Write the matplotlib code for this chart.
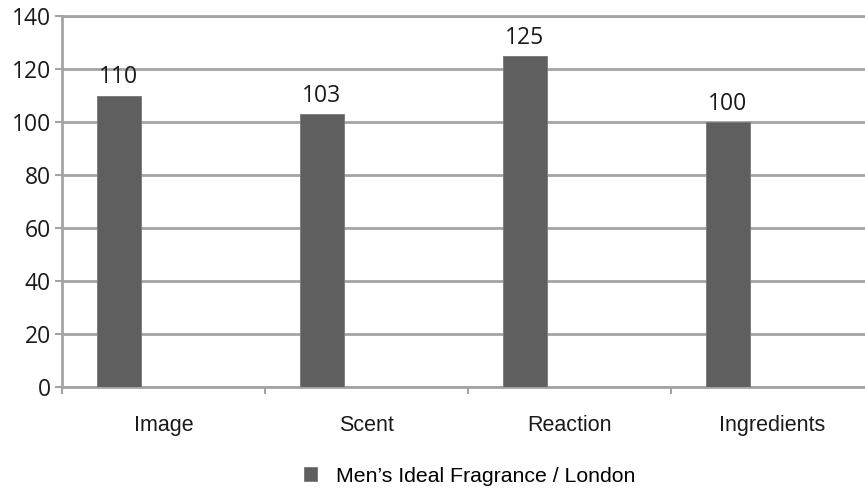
import numpy as np
import matplotlib
matplotlib.use("Agg")
import matplotlib.pyplot as plt
from matplotlib.patches import Patch

categories = ["Image", "Scent", "Reaction", "Ingredients"]
values = [110, 103, 125, 100]
series_name = "Men\u2019s Ideal Fragrance / London"
yticks = [0, 20, 40, 60, 80, 100, 120, 140]

bar_color = "#5f5f5f"
grid_color = "#a4a4a4"

fig = plt.figure(figsize=(8.65, 4.88), dpi=100)
ax = fig.add_axes([62 / 865, 1 - 387 / 488, (874 - 62) / 865, (387 - 16) / 488])

x = np.arange(len(categories))
bar_x = x - 0.22
bars = ax.bar(bar_x, values, width=0.217, color=bar_color, edgecolor="#777777",
              linewidth=0.6, zorder=3)

for bx, v in zip(bar_x, values):
    ax.annotate(str(v), (bx, v), xytext=(0, 4.5), textcoords="offset points",
                ha="center", va="bottom", fontsize=16.5, family="Open Sans",
                color="#1a1a1a")

ax.set_xlim(-0.5, 3.5)
ax.set_ylim(0, 140)

# y axis
ax.set_yticks(yticks)
ax.set_yticklabels([str(t) for t in yticks], fontsize=16.5, family="Open Sans",
                   color="#1a1a1a")
ax.tick_params(axis="y", length=5, width=1.5, color=grid_color, pad=3)
ax.yaxis.grid(True, color=grid_color, linewidth=2, zorder=0)

# x axis: boundary ticks, labels centred in each slot
ax.set_xticks([-0.5, 0.5, 1.5, 2.5])
ax.set_xticklabels([])
ax.tick_params(axis="x", which="major", length=5, width=1.5, color=grid_color)
ax.set_xticks(x, minor=True)
ax.set_xticklabels(categories, minor=True, fontsize=15.5,
                   family="Liberation Sans", color="#1a1a1a")
ax.tick_params(axis="x", which="minor", length=0, pad=20)

for side in ["left", "bottom", "top"]:
    ax.spines[side].set_color(grid_color)
    ax.spines[side].set_linewidth(2)
ax.spines["right"].set_visible(False)

handle = Patch(facecolor=bar_color, edgecolor="#777777", linewidth=0.6)
fig.legend([handle], [series_name], loc="center", bbox_to_anchor=(470 / 865, 1 - 476 / 488),
           frameon=False, prop={"family": "Liberation Sans", "size": 15.3},
           handlelength=0.6, handleheight=0.6, handletextpad=0.9)

fig.savefig("out.png", dpi=100)
